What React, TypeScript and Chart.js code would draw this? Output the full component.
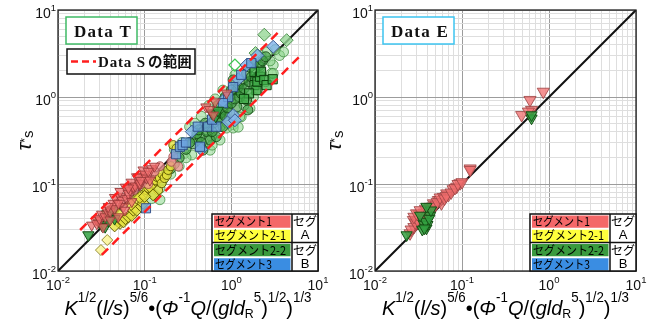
import React, { useEffect, useRef } from 'react';
import { Chart, registerables } from 'chart.js';

Chart.register(...registerables);

type P = [number, number];

// ---------- axes ----------
const AXIS_MIN = 0.01;
const AXIS_MAX = 10;
const DECADES = [0.01, 0.1, 1, 10];
const DECADE_EXP = ['-2', '-1', '0', '1'];
const MINOR_MULT = [1, 2, 3, 4, 5, 6, 7, 8, 9];

// ---------- reference lines ----------
const DIAGONAL: P[] = [[0.01, 0.01], [10, 10]];
const DATA_S_UPPER: P[] = [[0.018, 0.0296], [3.45, 5.5]];
const DATA_S_LOWER: P[] = [[0.032, 0.0153], [6.2, 2.96]];

// ---------- legend table ----------
const SEGMENT_LABELS = ['セグメント1', 'セグメント2-1', 'セグメント2-2', 'セグメント3'];
const SEGMENT_LABEL_WIDTHS = [57, 71, 71, 57];
const SEGMENT_COLORS = ['#f46868', '#ffff3c', '#3a9a3e', '#3a8de2'];
const GROUP_LABELS = ['セグ', 'A', 'セグ', 'B'];

// ---------- Data T (left panel) ----------
const T_SEG1_TRI: P[] = [
  [0.0245, 0.0337], [0.028, 0.0386], [0.0305, 0.0386], [0.033, 0.032], [0.028, 0.035], [0.03, 0.04],
  [0.032, 0.045], [0.035, 0.042], [0.0365, 0.05], [0.04, 0.0386], [0.04, 0.048], [0.0434, 0.06],
  [0.045, 0.052], [0.045, 0.07], [0.0496, 0.042], [0.052, 0.0714], [0.052, 0.082], [0.055, 0.065],
  [0.057, 0.055], [0.059, 0.05], [0.06, 0.092], [0.062, 0.068], [0.0647, 0.078], [0.068, 0.085],
  [0.07, 0.105], [0.071, 0.0627], [0.074, 0.089], [0.074, 0.093], [0.078, 0.095], [0.081, 0.121],
  [0.085, 0.12], [0.088, 0.0975], [0.088, 0.102], [0.096, 0.145], [0.1, 0.13], [0.105, 0.117],
  [0.115, 0.111], [0.12, 0.15], [0.13, 0.16], [0.11, 0.14], [0.09, 0.11],
  [0.065, 0.09], [0.05, 0.06], [0.038, 0.055],
  [0.51, 0.77], [0.56, 0.72], [0.62, 0.62], [0.65, 0.88], [0.88, 1.11],
];
const T_SEG1_CIRC: P[] = [
  [0.214, 0.206], [0.204, 0.18], [0.244, 0.159], [0.15, 0.16], [0.12, 0.13], [0.09, 0.1], [0.075, 0.085],
  [0.065, 0.075], [0.048, 0.06], [0.04, 0.05], [0.035, 0.045], [0.11, 0.1], [0.095, 0.12], [0.13, 0.14],
];
const T_SEG21_DIA: P[] = [
  [0.048, 0.038], [0.052, 0.0353], [0.057, 0.0367], [0.06, 0.04], [0.065, 0.042], [0.071, 0.0435],
  [0.074, 0.05], [0.081, 0.05], [0.081, 0.068], [0.092, 0.055], [0.096, 0.06], [0.115, 0.093],
  [0.125, 0.075], [0.045, 0.033], [0.05, 0.045], [0.07, 0.058], [0.088, 0.07], [0.1, 0.072],
];
const T_SEG21_CIRC: P[] = [
  [0.095, 0.075], [0.105, 0.085], [0.11, 0.09], [0.12, 0.1], [0.125, 0.102], [0.135, 0.11], [0.14, 0.12],
  [0.143, 0.085], [0.15, 0.117], [0.157, 0.102], [0.16, 0.13], [0.17, 0.117], [0.18, 0.127],
  [0.187, 0.145], [0.2, 0.16], [0.214, 0.28], [0.233, 0.256],
];
const T_SEG21_PALE: P[] = [[0.0313, 0.0174], [0.037, 0.0227]];
const T_SEG22_TRI: P[] = [
  [0.0224, 0.0259], [0.03, 0.036], [0.032, 0.0338], [0.035, 0.0323], [0.037, 0.045], [0.04, 0.0435],
  [0.043, 0.05], [0.045, 0.04], [0.038, 0.038], [0.6, 0.65], [0.66, 0.6], [0.7, 0.7],
];
const T_SEG22_CIRC_DARK: P[] = [
  [0.36, 0.29], [0.435, 0.35], [0.52, 0.4], [0.62, 0.5], [0.74, 0.59], [0.8, 0.71], [0.88, 0.84],
  [0.96, 1.0], [1.16, 1.2], [1.37, 1.43], [1.5, 1.87], [1.64, 2.2], [1.8, 2.45], [1.05, 1.57],
  [1.25, 1.0], [1.5, 0.92], [1.55, 0.71], [1.16, 0.77], [0.96, 0.65], [0.57, 0.32], [0.67, 0.35],
  [0.47, 0.245], [0.8, 0.456], [0.3, 0.25], [0.33, 0.3], [0.4, 0.38], [0.45, 0.3], [0.55, 0.45],
  [0.6, 0.4], [0.7, 0.55], [0.75, 0.65], [0.85, 0.6], [0.9, 0.75], [1.0, 0.85], [1.1, 0.95],
  [1.2, 1.3], [1.3, 1.1], [1.4, 1.25], [1.6, 1.5], [1.7, 1.7], [1.9, 1.6], [2.1, 2.3], [2.3, 2.6],
  [2.5, 2.9], [1.0, 1.2], [0.85, 1.0], [0.7, 0.8], [0.65, 0.62], [0.5, 0.5], [0.42, 0.42],
  [0.25, 0.2], [0.22, 0.17], [0.2, 0.15], [0.18, 0.14],
];
const T_SEG22_CIRC_LIGHT: P[] = [
  [0.33, 0.456], [0.4, 0.35], [0.52, 0.42], [0.88, 0.44], [1.05, 0.48], [0.29, 0.225], [0.35, 0.216],
  [0.4, 0.32], [0.15, 0.089], [0.74, 0.32], [0.59, 0.35], [1.64, 0.74], [1.3, 0.59], [1.05, 0.44],
  [0.57, 0.245], [3.6, 3.0], [3.04, 2.33], [2.9, 1.87], [2.14, 2.2], [4.0, 3.3], [3.04, 1.87],
  [1.25, 0.59], [0.74, 0.456], [0.52, 0.32], [0.15, 0.066], [0.12, 0.068], [0.25, 0.16], [0.2, 0.13],
  [0.3, 0.2], [0.45, 0.26], [0.6, 0.28], [0.9, 0.5], [1.4, 0.8], [1.8, 1.0], [2.0, 1.2], [2.5, 1.5],
  [2.8, 2.6], [3.2, 3.5], [1.1, 1.8], [0.8, 1.2], [0.65, 0.95], [0.55, 0.8], [0.45, 0.6], [0.38, 0.5],
  [2.2, 3.0], [1.9, 2.6], [2.6, 3.3], [0.13, 0.075], [0.16, 0.11], [0.22, 0.25], [0.27, 0.3], [1.2, 0.45],
];
const T_SEG22_SQ: P[] = [
  [1.85, 1.37], [1.85, 1.95], [1.95, 1.2], [2.0, 1.5], [2.14, 1.71], [2.2, 1.95], [2.4, 1.57],
  [2.55, 1.37], [3.0, 1.6], [1.6, 1.1], [1.4, 0.95],
];
const T_SEG22_DIA: P[] = [[2.4, 5.2], [4.35, 4.5], [1.9, 3.2]];
const T_SEG22_HOLLOW: P[] = [[1.1, 2.33], [0.74, 0.85]];
const T_SEG3_SQ: P[] = [
  [0.1035, 0.0526], [0.23, 0.22], [0.255, 0.268], [0.274, 0.28], [0.3, 0.3], [0.41, 0.456],
  [0.435, 0.268], [0.54, 0.456], [0.67, 0.456], [0.92, 1.0], [1.05, 1.3], [1.3, 1.8], [1.7, 2.45],
  [0.6, 0.55], [0.8, 0.85],
];
const T_SEG3_DIA: P[] = [
  [0.45, 0.25], [0.8, 0.9], [0.92, 0.52], [1.05, 0.62], [1.1, 0.54], [1.2, 1.6], [1.5, 2.33],
  [2.0, 3.0], [3.04, 3.78], [0.35, 0.4],
];

// ---------- Data E (right panel) ----------
const E_SEG1_TRI: P[] = [
  [0.124, 0.151], [0.095, 0.102], [0.087, 0.093], [0.079, 0.087], [0.07, 0.075], [0.061, 0.071],
  [0.0535, 0.0655], [0.047, 0.06], [0.0667, 0.078], [0.124, 0.145], [0.0557, 0.0655], [0.0429, 0.0546],
  [0.0276, 0.0386], [0.0253, 0.0271], [0.03, 0.035], [0.033, 0.04], [0.036, 0.045], [0.04, 0.048],
  [0.045, 0.05], [0.05, 0.058], [0.058, 0.06], [0.035, 0.038], [0.028, 0.032], [0.032, 0.045],
  [0.038, 0.052], [0.026, 0.03], [0.029, 0.036], [0.031, 0.038], [0.034, 0.043], [0.037, 0.047],
  [0.042, 0.052], [0.046, 0.055], [0.052, 0.062], [0.056, 0.07], [0.063, 0.068], [0.066, 0.073],
  [0.075, 0.08], [0.083, 0.09], [0.09, 0.1], [0.1, 0.105], [0.028, 0.042], [0.03, 0.046],
  [0.033, 0.05],
  [0.605, 0.925], [0.86, 1.15], [0.485, 0.62], [0.63, 0.71], [0.58, 0.68],
];
const E_SEG22_TRI: P[] = [
  [0.0231, 0.0259], [0.036, 0.0353], [0.043, 0.0435], [0.039, 0.031], [0.04, 0.034], [0.038, 0.037],
  [0.042, 0.04], [0.035, 0.03], [0.044, 0.05], [0.039, 0.055], [0.033, 0.0435], [0.037, 0.031],
  [0.63, 0.57], [0.63, 0.62],
];

// ---------- styling helpers ----------
const SANS = '"Liberation Sans", Arial, sans-serif';
const SERIF = '"Liberation Serif", "DejaVu Serif", serif';
const CJK = '"Noto Sans CJK JP", "Noto Sans", sans-serif';

type Style = { style: string; r: number; fill: string; edge: string; rot?: number; bw?: number };

const RED_TRI: Style = { style: 'triangle', r: 6, rot: 180, fill: 'rgba(238,105,105,0.72)', edge: 'rgba(150,55,55,0.85)' };
const RED_TRI_E: Style = { style: 'triangle', r: 7, rot: 180, fill: 'rgba(240,110,110,0.75)', edge: 'rgba(160,70,70,0.85)' };
const GREEN_TRI: Style = { style: 'triangle', r: 6.5, rot: 180, fill: 'rgba(50,160,65,0.85)', edge: 'rgba(20,80,20,1)' };
const PINK_CIRC: Style = { style: 'circle', r: 4.5, fill: 'rgba(245,150,150,0.75)', edge: 'rgba(160,80,80,0.85)' };
const YEL_DIA: Style = { style: 'rectRot', r: 6, fill: 'rgba(230,225,60,0.78)', edge: 'rgba(95,90,0,0.95)' };
const YEL_CIRC: Style = { style: 'circle', r: 4.5, fill: 'rgba(230,225,60,0.78)', edge: 'rgba(95,90,0,0.95)' };
const PALE_DIA: Style = { style: 'rectRot', r: 5.5, fill: 'rgba(250,245,150,0.85)', edge: 'rgba(140,130,40,0.9)' };
const DARK_CIRC: Style = { style: 'circle', r: 5, fill: 'rgba(55,150,60,0.6)', edge: 'rgba(20,70,20,0.85)' };
const LIGHT_CIRC: Style = { style: 'circle', r: 5, fill: 'rgba(140,215,140,0.55)', edge: 'rgba(60,140,60,0.75)' };
const GREEN_SQ: Style = { style: 'rect', r: 6.5, fill: 'rgba(60,170,70,0.75)', edge: 'rgba(10,60,10,1)' };
const GREEN_DIA: Style = { style: 'rectRot', r: 6.5, fill: 'rgba(150,215,150,0.8)', edge: 'rgba(70,140,70,0.9)' };
const GREEN_HOLLOW: Style = { style: 'rectRot', r: 6, fill: 'rgba(255,255,255,0.2)', edge: 'rgba(60,200,80,1)', bw: 1.2 };
const BLUE_SQ: Style = { style: 'rect', r: 6.5, fill: 'rgba(110,165,225,0.8)', edge: 'rgba(40,70,130,0.9)' };
const BLUE_DIA: Style = { style: 'rectRot', r: 6.5, fill: 'rgba(130,180,235,0.8)', edge: 'rgba(50,80,140,0.9)' };

const toXY = (d: P[]) => d.map(([x, y]) => ({ x, y }));

function pts(d: P[], s: Style) {
  return {
    data: toXY(d),
    showLine: false,
    pointStyle: s.style,
    pointRadius: s.r,
    pointRotation: s.rot ?? 0,
    pointBackgroundColor: s.fill,
    pointBorderColor: s.edge,
    pointBorderWidth: s.bw ?? 1,
    backgroundColor: s.fill,
    borderColor: s.edge,
  };
}

function line(d: P[], color: string, width: number, dash: number[] = []) {
  return {
    data: toXY(d),
    showLine: true,
    pointRadius: 0,
    borderColor: color,
    borderWidth: width,
    borderDash: dash,
    fill: false,
  };
}

const GRID_TICKS: number[] = [];
for (let e = -2; e <= 0; e++) for (const m of MINOR_MULT) GRID_TICKS.push(+(m * Math.pow(10, e)).toPrecision(3));
GRID_TICKS.push(AXIS_MAX);

const isMajor = (v: number) => {
  const l = Math.log10(v);
  return Math.abs(l - Math.round(l)) < 1e-6;
};

type Seg = { t: string; it?: boolean; pos?: 'sup' | 'sub' };
const X_TITLE: Seg[] = [
  { t: 'K', it: true }, { t: '1/2', pos: 'sup' }, { t: '(' }, { t: 'l/s', it: true }, { t: ')' },
  { t: '5/6', pos: 'sup' }, { t: '•' }, { t: '(' }, { t: 'Φ', it: true }, { t: '-1', pos: 'sup' },
  { t: 'Q', it: true }, { t: '/(' }, { t: 'gld', it: true }, { t: 'R', pos: 'sub' }, { t: '5', pos: 'sup' },
  { t: ')' }, { t: '1/2', pos: 'sup' }, { t: ')' }, { t: '1/3', pos: 'sup' },
];

function segFont(s: Seg) {
  const sz = s.pos === 'sup' ? 14 : s.pos === 'sub' ? 13 : 21;
  return `${s.it ? 'italic ' : ''}${sz}px ${SANS}`;
}

function drawRich(ctx: CanvasRenderingContext2D, segs: Seg[], cx: number, base: number, target: number) {
  const widths = segs.map((s) => {
    ctx.font = segFont(s);
    return ctx.measureText(s.t).width;
  });
  const total = widths.reduce((a, b) => a + b, 0);
  const k = target / total;
  ctx.save();
  ctx.translate(cx - target / 2, base);
  ctx.scale(k, 1);
  ctx.fillStyle = '#000';
  ctx.textAlign = 'left';
  ctx.textBaseline = 'alphabetic';
  let x = 0;
  segs.forEach((s, i) => {
    ctx.font = segFont(s);
    const dy = s.pos === 'sup' ? -13 : s.pos === 'sub' ? 3 : 0;
    ctx.fillText(s.t, x, dy);
    x += widths[i];
  });
  ctx.restore();
}

function drawPow(ctx: CanvasRenderingContext2D, x: number, base: number, align: 'center' | 'right', exp: string) {
  ctx.textAlign = 'left';
  ctx.textBaseline = 'alphabetic';
  ctx.fillStyle = '#111';
  ctx.font = `14px ${SANS}`;
  const w1 = ctx.measureText('10').width;
  ctx.font = `9.5px ${SANS}`;
  const w2 = ctx.measureText(exp).width;
  const tot = w1 + w2;
  const sx = align === 'center' ? x - tot / 2 : x - tot;
  ctx.font = `14px ${SANS}`;
  ctx.fillText('10', sx, base);
  ctx.font = `9.5px ${SANS}`;
  ctx.fillText(exp, sx + w1, base - 7);
}

function fitText(ctx: CanvasRenderingContext2D, text: string, x: number, base: number, target: number) {
  const w = ctx.measureText(text).width;
  const anyCtx = ctx as any;
  if (w < target && text.length > 1) {
    anyCtx.letterSpacing = `${(target - w) / text.length}px`;
    ctx.fillText(text, x, base);
    anyCtx.letterSpacing = '0px';
  } else {
    ctx.fillText(text, x, base, target);
  }
}

function drawSegTable(ctx: CanvasRenderingContext2D, right: number, bottom: number) {
  const w = 106;
  const h = 57;
  const colW = 80;
  const x0 = right - w;
  const y0 = bottom - h;
  const rowH = h / 4;
  ctx.fillStyle = '#fff';
  ctx.fillRect(x0, y0, w, h);
  for (let i = 0; i < 4; i++) {
    ctx.fillStyle = SEGMENT_COLORS[i];
    ctx.fillRect(x0 + 2, y0 + i * rowH + 1.5, colW - 3.5, rowH - 2);
    ctx.fillStyle = '#000';
    ctx.font = `12px ${CJK}`;
    ctx.textAlign = 'left';
    ctx.textBaseline = 'middle';
    fitText(ctx, SEGMENT_LABELS[i], x0 + 3, y0 + i * rowH + rowH / 2 + 0.5, SEGMENT_LABEL_WIDTHS[i]);
    ctx.textAlign = 'center';
    ctx.font = GROUP_LABELS[i].length > 1 ? `12px ${CJK}` : `13px ${SANS}`;
    ctx.fillText(GROUP_LABELS[i], x0 + colW + (w - colW) / 2, y0 + i * rowH + rowH / 2 + 0.5);
  }
  ctx.strokeStyle = '#111';
  ctx.lineWidth = 1.5;
  ctx.strokeRect(x0, y0, w, h);
  ctx.beginPath();
  ctx.moveTo(x0 + colW, y0);
  ctx.lineTo(x0 + colW, y0 + h);
  ctx.moveTo(x0, y0 + 2 * rowH);
  ctx.lineTo(x0 + w, y0 + 2 * rowH);
  ctx.stroke();
}

type PanelCfg = {
  width: number;
  padLeft: number;
  padRight: number;
  datasets: any[];
  badge: string;
  badgeColor: string;
  showRange: boolean;
  yTitleX: number;
};

function makeDecor(cfg: PanelCfg) {
  return {
    id: 'decor',
    afterDraw(chart: any) {
      const ctx: CanvasRenderingContext2D = chart.ctx;
      const a = chart.chartArea;
      const xs = chart.scales.x;
      const ys = chart.scales.y;
      ctx.save();
      ctx.strokeStyle = '#222';
      ctx.lineWidth = 1.3;
      ctx.strokeRect(a.left, a.top, a.right - a.left, a.bottom - a.top);

      const bx = a.left + 8;
      const by = a.top + 7;
      ctx.fillStyle = '#fff';
      ctx.fillRect(bx, by, 71, 27);
      ctx.strokeStyle = cfg.badgeColor;
      ctx.lineWidth = 1.5;
      ctx.strokeRect(bx, by, 71, 27);
      ctx.fillStyle = '#111';
      ctx.font = `bold 17px ${SERIF}`;
      ctx.textAlign = 'left';
      ctx.textBaseline = 'alphabetic';
      fitText(ctx, cfg.badge, bx + 8, by + 20, 58);

      if (cfg.showRange) {
        const rx = a.left + 9;
        const ry = a.top + 39;
        ctx.fillStyle = '#fff';
        ctx.fillRect(rx, ry, 128, 25);
        ctx.strokeStyle = '#111';
        ctx.lineWidth = 1.5;
        ctx.strokeRect(rx, ry, 128, 25);
        ctx.strokeStyle = '#ff1e1e';
        ctx.lineWidth = 2.5;
        ctx.setLineDash([7, 4]);
        ctx.beginPath();
        ctx.moveTo(rx + 4, ry + 12.5);
        ctx.lineTo(rx + 29, ry + 12.5);
        ctx.stroke();
        ctx.setLineDash([]);
        ctx.fillStyle = '#111';
        ctx.font = `bold 15px ${SERIF}`;
        fitText(ctx, 'Data S', rx + 31, ry + 18, 48);
        ctx.font = `bold 14.5px ${CJK}`;
        fitText(ctx, 'の範囲', rx + 81, ry + 18, 44);
      }

      drawSegTable(ctx, a.right, a.bottom);

      DECADES.forEach((v, i) => {
        drawPow(ctx, xs.getPixelForValue(v), a.bottom + 19, 'center', DECADE_EXP[i]);
        drawPow(ctx, a.left - 2, ys.getPixelForValue(v) + 8, 'right', DECADE_EXP[i]);
      });

      drawRich(ctx, X_TITLE, (a.left + a.right) / 2, a.bottom + 44, 247);

      ctx.save();
      ctx.translate(cfg.yTitleX, (a.top + a.bottom) / 2);
      ctx.rotate(-Math.PI / 2);
      ctx.fillStyle = '#111';
      ctx.textBaseline = 'alphabetic';
      ctx.textAlign = 'left';
      ctx.font = `italic 21px ${SANS}`;
      const wt = ctx.measureText('τ').width;
      ctx.font = `12px ${SANS}`;
      const wa = ctx.measureText('*').width;
      ctx.font = `15px ${SANS}`;
      const ws = ctx.measureText('s').width;
      let x = -(wt + wa + ws) / 2;
      ctx.font = `italic 21px ${SANS}`;
      ctx.fillText('τ', x, 0);
      x += wt;
      ctx.font = `12px ${SANS}`;
      ctx.fillText('*', x, -2);
      x += wa;
      ctx.font = `15px ${SANS}`;
      ctx.fillText('s', x, 2);
      ctx.restore();

      ctx.restore();
    },
  };
}

function Panel(cfg: PanelCfg) {
  const ref = useRef<HTMLCanvasElement>(null);
  useEffect(() => {
    const axis = (pos: string) => ({
      type: 'logarithmic',
      position: pos,
      min: AXIS_MIN,
      max: AXIS_MAX,
      afterBuildTicks: (s: any) => {
        s.ticks = GRID_TICKS.map((v) => ({ value: v }));
      },
      ticks: { display: false },
      grid: {
        drawTicks: false,
        color: (c: any) => (c.tick && isMajor(c.tick.value) ? '#9c9c9c' : '#dedede'),
        lineWidth: 1,
      },
      border: { display: false },
      title: { display: false },
    });
    const chart = new Chart(ref.current as HTMLCanvasElement, {
      type: 'scatter',
      data: { datasets: cfg.datasets },
      options: {
        responsive: false,
        animation: false,
        events: [],
        layout: { padding: { left: cfg.padLeft, right: cfg.padRight, top: 10, bottom: 53 } },
        plugins: { legend: { display: false }, tooltip: { enabled: false } },
        scales: { x: axis('bottom') as any, y: axis('left') as any },
      },
      plugins: [makeDecor(cfg)],
    });
    return () => chart.destroy();
  }, []);
  return (
    <canvas
      ref={ref}
      width={cfg.width}
      height={324}
      style={{ display: 'block', width: cfg.width, height: 324 }}
    />
  );
}

const LEFT_DATASETS = [
  line(DATA_S_UPPER, '#ff1e1e', 2.5, [9, 6]),
  line(DATA_S_LOWER, '#ff1e1e', 2.5, [9, 6]),
  pts(T_SEG1_TRI, RED_TRI),
  pts(T_SEG22_TRI, GREEN_TRI),
  pts(T_SEG3_SQ, BLUE_SQ),
  pts(T_SEG3_DIA, BLUE_DIA),
  pts(T_SEG22_SQ, GREEN_SQ),
  pts(T_SEG22_HOLLOW, GREEN_HOLLOW),
  pts(T_SEG1_CIRC, PINK_CIRC),
  pts(T_SEG21_DIA, YEL_DIA),
  pts(T_SEG21_CIRC, YEL_CIRC),
  pts(T_SEG21_PALE, PALE_DIA),
  pts(T_SEG22_DIA, GREEN_DIA),
  pts(T_SEG22_CIRC_DARK, DARK_CIRC),
  pts(T_SEG22_CIRC_LIGHT, LIGHT_CIRC),
  line(DIAGONAL, '#111', 2),
];

const RIGHT_DATASETS = [
  pts(E_SEG22_TRI, GREEN_TRI),
  pts(E_SEG1_TRI, RED_TRI_E),
  line(DIAGONAL, '#111', 2),
];

export default function App() {
  return (
    <div
      style={{
        position: 'absolute',
        left: 0,
        top: 0,
        width: 656,
        height: 324,
        display: 'flex',
        background: '#fff',
      }}
    >
      <Panel
        width={330}
        padLeft={58}
        padRight={12}
        datasets={LEFT_DATASETS}
        badge="Data T"
        badgeColor="#3fbb66"
        showRange={true}
        yTitleX={31}
      />
      <Panel
        width={326}
        padLeft={45}
        padRight={20}
        datasets={RIGHT_DATASETS}
        badge="Data E"
        badgeColor="#3cc4f0"
        showRange={false}
        yTitleX={11}
      />
    </div>
  );
}
